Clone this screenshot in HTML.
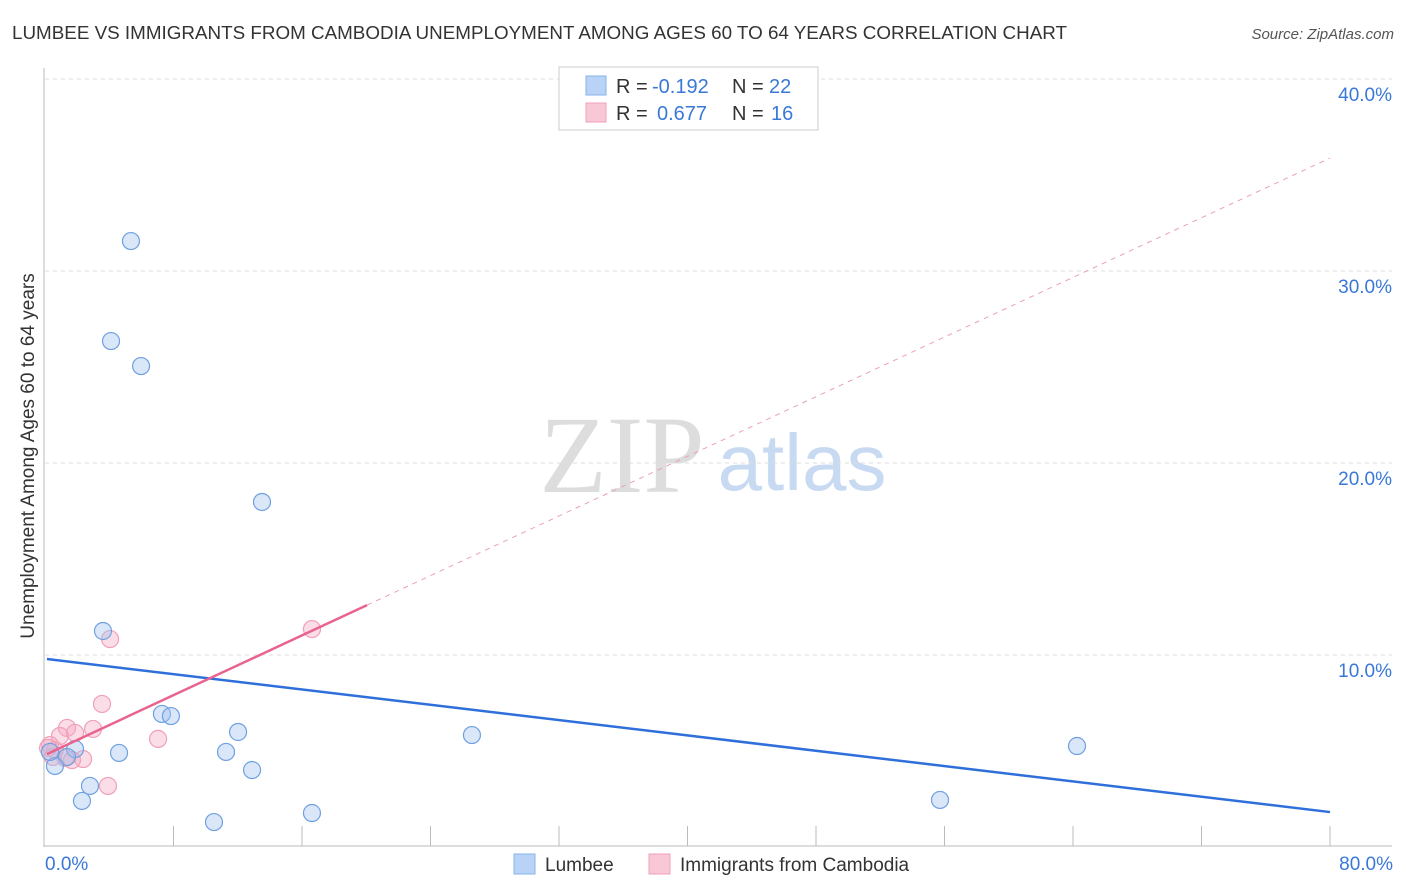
<!DOCTYPE html>
<html><head><meta charset="utf-8"><style>
body{margin:0;background:#fff;font-family:"Liberation Sans",sans-serif}
svg{display:block}
</style></head><body>
<svg id="chart" width="1406" height="892">
<text x="12" y="39" font-size="18" fill="#333" textLength="1055" lengthAdjust="spacingAndGlyphs">LUMBEE VS IMMIGRANTS FROM CAMBODIA UNEMPLOYMENT AMONG AGES 60 TO 64 YEARS CORRELATION CHART</text>
<text x="1394" y="39" font-size="15" fill="#555" text-anchor="end" font-style="italic">Source: ZipAtlas.com</text>
<text x="622" y="492" font-size="110" fill="#ddd" font-family="Liberation Serif,serif" text-anchor="middle">ZIP</text>
<text x="802" y="490" font-size="80" fill="#c8daf2" text-anchor="middle">atlas</text>
<text transform="translate(34,456) rotate(-90)" font-size="19" fill="#333" text-anchor="middle">Unemployment Among Ages 60 to 64 years</text>
<g id="grid"></g><g id="marks"></g>
<g>
<rect x="559" y="67" width="259" height="63" fill="#fff" stroke="#ccc"/>
<rect x="586" y="76" width="20" height="19" fill="#b8d3f5" stroke="#8ab4e8"/>
<rect x="586" y="103" width="20" height="19" fill="#f8c8d6" stroke="#f0a0b8"/>
<text x="616" y="93" font-size="20" fill="#333">R =</text>
<text x="652" y="93" font-size="20" fill="#3a78d8">-0.192</text>
<text x="732" y="93" font-size="20" fill="#333">N =</text>
<text x="769" y="93" font-size="20" fill="#3a78d8">22</text>
<text x="616" y="120" font-size="20" fill="#333">R =</text>
<text x="657" y="120" font-size="20" fill="#3a78d8">0.677</text>
<text x="732" y="120" font-size="20" fill="#333">N =</text>
<text x="771" y="120" font-size="20" fill="#3a78d8">16</text>
</g>
<g>
<rect x="514" y="854" width="21" height="20" fill="#b8d3f5" stroke="#8ab4e8"/>
<text x="545" y="871" font-size="19" fill="#333">Lumbee</text>
<rect x="649" y="854" width="21" height="20" fill="#f8c8d6" stroke="#f0a0b8"/>
<text x="680" y="871" font-size="19" fill="#333">Immigrants from Cambodia</text>
</g>
</svg>
<script>
const yTicks=[10,20,30,40];
const yTickLabels=["10.0%","20.0%","30.0%","40.0%"];
const xTickLabels=["0.0%","80.0%"];
const lumbeeX=[5.35,4.11,5.98,13.51,3.61,7.28,7.84,12.02,11.27,4.61,12.89,1.87,1.37,0.62,0.31,2.80,2.30,10.52,16.62,26.58,64.25,55.72];
const lumbeeY=[31.56,26.35,25.05,17.97,11.25,6.93,6.82,5.99,4.95,4.90,4.01,5.10,4.69,4.22,4.95,3.18,2.40,1.30,1.77,5.83,5.26,2.45];
const cambX=[4.05,16.62,3.55,7.04,2.99,1.37,0.93,1.87,0.31,0.62,1.25,2.37,1.68,3.92,0.19,0.50];
const cambY=[10.83,11.35,7.45,5.63,6.15,6.20,5.78,5.94,5.31,5.05,4.64,4.58,4.53,3.18,5.16,4.69];
const blueLine=[[0.12,9.79],[80,1.82]];
const pinkSolid=[[0.12,4.84],[20.05,12.6]];
const pinkDash=[[20.05,12.6],[80,35.88]];
const X=v=>45+v/80*1285, Y=v=>847-v*19.2;
const NS="http://www.w3.org/2000/svg";
function mk(t,a,p){const e=document.createElementNS(NS,t);for(const k in a)e.setAttribute(k,a[k]);p.appendChild(e);return e;}
const g=document.getElementById('grid'), m=document.getElementById('marks');
yTicks.forEach((t,i)=>{
 const l=mk('line',{x1:45,x2:1392,y1:Y(t),y2:Y(t),stroke:'#ddd','stroke-dasharray':'4,4'},g);
 
 
 const tx=mk('text',{x:1392,y:Y(t)+22,'font-size':19,fill:'#3a78d8','text-anchor':'end'},g);tx.textContent=yTickLabels[i];
 
 
});
const ax=mk('line',{x1:44,x2:44,y1:68,y2:847,stroke:'#bbb'},g);


const bx=mk('line',{x1:44,x2:1392,y1:846,y2:846,stroke:'#bbb'},g);


for(let i=1;i<=10;i++){const t=mk('line',{x1:X(i*8),x2:X(i*8),y1:826,y2:846,stroke:'#bbb'},g);
 
 }
[[X(0),'start'],[X(80)+63,'end']].forEach((p,i)=>{const t=mk('text',{x:p[0],y:870,'font-size':19,fill:'#3a78d8','text-anchor':p[1]},g);t.textContent=xTickLabels[i];
 
 });
cambX.forEach((v,i)=>{const c=mk('circle',{cx:X(v),cy:Y(cambY[i]),r:8.5,fill:'rgba(244,170,195,0.4)',stroke:'#f0a0b8','stroke-width':1.2},m);
 
 });
lumbeeX.forEach((v,i)=>{const c=mk('circle',{cx:X(v),cy:Y(lumbeeY[i]),r:8.5,fill:'rgba(160,195,240,0.4)',stroke:'#6fa0e0','stroke-width':1.2},m);
 
 });
const bl=mk('line',{x1:X(blueLine[0][0]),y1:Y(blueLine[0][1]),x2:X(blueLine[1][0]),y2:Y(blueLine[1][1]),stroke:'#2f6fdb','stroke-width':2.5},m);


const pl=mk('line',{x1:X(pinkSolid[0][0]),y1:Y(pinkSolid[0][1]),x2:X(pinkSolid[1][0]),y2:Y(pinkSolid[1][1]),stroke:'#e8648e','stroke-width':2.5},m);


const pd=mk('line',{x1:X(pinkDash[0][0]),y1:Y(pinkDash[0][1]),x2:X(pinkDash[1][0]),y2:Y(pinkDash[1][1]),stroke:'#eaa0b8','stroke-width':1,'stroke-dasharray':'5,5'},m);


</script>
</body></html>
